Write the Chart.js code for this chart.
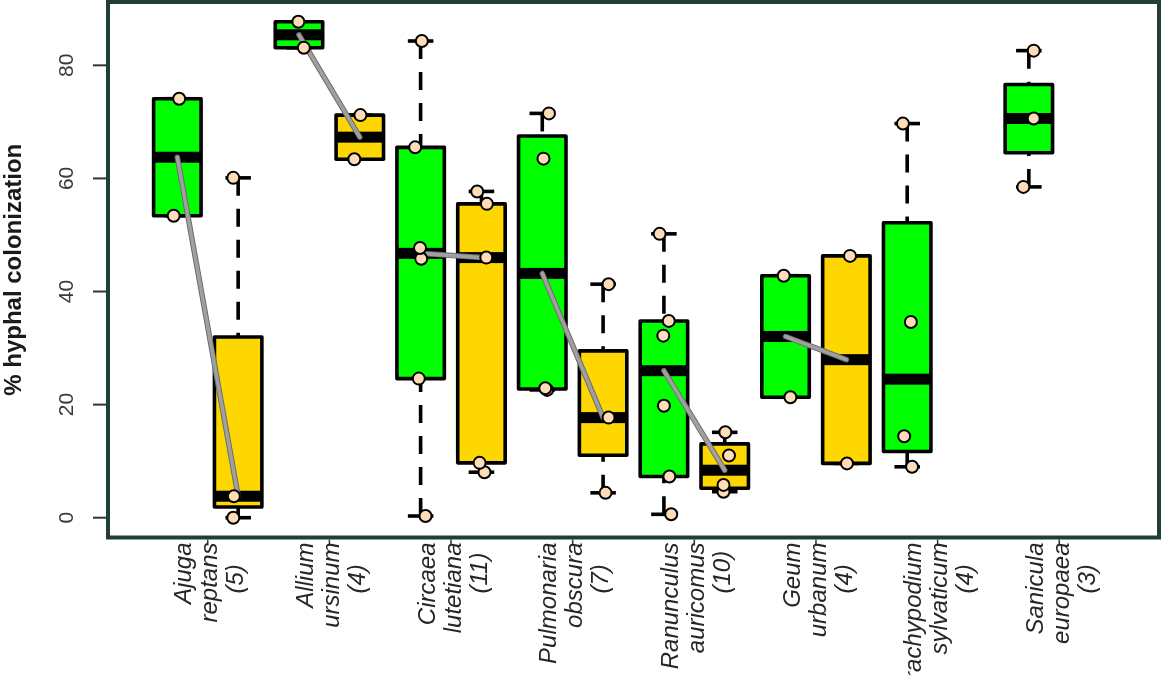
<!DOCTYPE html>
<html>
<head>
<meta charset="utf-8">
<script src="https://cdn.jsdelivr.net/npm/chart.js@4.4.1/dist/chart.umd.min.js"></script>
<style>
  html, body { margin: 0; padding: 0; background: #ffffff; overflow: hidden; }
  canvas { display: block; }
</style>
</head>
<body>
<canvas id="chart" width="1161" height="675"></canvas>
<script>
// Species (genus / epithet) and number of samples per species
const genus = ['Ajuga', 'Allium', 'Circaea', 'Pulmonaria', 'Ranunculus', 'Geum', 'Brachypodium', 'Sanicula'];
const epithet = ['reptans', 'ursinum', 'lutetiana', 'obscura', 'auricomus', 'urbanum', 'sylvaticum', 'europaea'];
const sampleSize = [5, 4, 11, 7, 10, 4, 4, 3];

// % hyphal colonization, green group
const greenValues = [
  [53.4, 74.1],
  [83.1, 87.7],
  [0.3, 24.6, 45.8, 47.7, 65.5, 84.3],
  [22.6, 22.9, 63.5, 71.5],
  [0.6, 7.3, 19.8, 32.2, 34.8, 50.2],
  [21.3, 42.8],
  [9.0, 14.4, 34.6, 69.7],
  [58.5, 70.6, 82.6]
];

// % hyphal colonization, gold group
const goldValues = [
  [0, 3.8, 60.1],
  [63.4, 71.2],
  [8.05, 9.7, 46.0, 55.5, 57.7],
  [4.4, 17.7, 41.3],
  [4.6, 5.8, 11.0, 15.1],
  [9.6, 46.3],
  [],
  []
];

// horizontal jitter of the individual points (x units)
const greenJitter = [
  [-0.06, 0.03], [0.08, -0.01], [0.08, -0.03, 0.01, -0.01, -0.09, 0.02],
  [0.08, 0.05, 0.02, 0.11], [0.12, 0.09, 0.0, -0.01, 0.08, -0.07],
  [0.08, -0.03], [0.08, -0.05, 0.06, -0.07], [-0.09, 0.08, 0.08]
];
const goldJitter = [
  [-0.08, -0.07, -0.08], [-0.09, 0.01], [0.05, -0.03, 0.08, 0.09, -0.07],
  [0.04, 0.09, 0.09], [-0.02, -0.02, 0.07, 0.01], [0.01, 0.06], [], []
];

const yTicks = [0, 20, 40, 60, 80];
const yTitle = '% hyphal colonization';

// Tukey five-number summary
function fivenum(values) {
  const x = values.slice().sort((a, b) => a - b);
  const n = x.length;
  const n4 = Math.floor((n + 3) / 2) / 2;
  const d = [1, n4, (n + 1) / 2, n + 1 - n4, n];
  return d.map(v => 0.5 * (x[Math.floor(v) - 1] + x[Math.ceil(v) - 1]));
}

function boxStats(values) {
  const f = fivenum(values);
  const iqr = f[3] - f[1];
  const lo = values.filter(v => v >= f[1] - 1.5 * iqr);
  const hi = values.filter(v => v <= f[3] + 1.5 * iqr);
  return { lowWhisker: Math.min(...lo), q1: f[1], median: f[2], q3: f[3], highWhisker: Math.max(...hi) };
}

const GREEN = '#00ff00';
const GOLD = '#ffd700';

const groups = [];
genus.forEach((g, k) => {
  groups.push({ pos: 2 * k + 1, values: greenValues[k], jitter: greenJitter[k], fill: GREEN });
  groups.push({ pos: 2 * k + 2, values: goldValues[k], jitter: goldJitter[k], fill: GOLD });
});

const pointData = [];
groups.forEach(gr => {
  gr.values.forEach((v, i) => pointData.push({ x: gr.pos + gr.jitter[i], y: v }));
});

const boxPlugin = {
  id: 'boxes',
  beforeDatasetsDraw(chart) {
    const { ctx, scales: { x, y } } = chart;
    const halfBox = 0.39;
    const halfStaple = 0.21;
    ctx.save();
    groups.forEach(gr => {
      if (!gr.values.length) return;
      const s = boxStats(gr.values);
      const cx = x.getPixelForValue(gr.pos);
      const l = x.getPixelForValue(gr.pos - halfBox);
      const r = x.getPixelForValue(gr.pos + halfBox);
      const sl = x.getPixelForValue(gr.pos - halfStaple);
      const sr = x.getPixelForValue(gr.pos + halfStaple);
      const yq1 = y.getPixelForValue(s.q1);
      const yq3 = y.getPixelForValue(s.q3);
      const ymed = y.getPixelForValue(s.median);
      const ylo = y.getPixelForValue(s.lowWhisker);
      const yhi = y.getPixelForValue(s.highWhisker);

      ctx.strokeStyle = '#000';
      ctx.lineWidth = 3.6;
      ctx.lineCap = 'butt';
      // dashed whiskers, drawn from the extreme toward the hinge
      ctx.setLineDash([18, 13]);
      ctx.beginPath(); ctx.moveTo(cx, yhi); ctx.lineTo(cx, yq3); ctx.stroke();
      ctx.beginPath(); ctx.moveTo(cx, ylo); ctx.lineTo(cx, yq1); ctx.stroke();
      ctx.setLineDash([]);
      // staples
      ctx.beginPath(); ctx.moveTo(sl, yhi); ctx.lineTo(sr, yhi); ctx.stroke();
      ctx.beginPath(); ctx.moveTo(sl, ylo); ctx.lineTo(sr, ylo); ctx.stroke();
      // box
      ctx.fillStyle = gr.fill;
      ctx.fillRect(l, yq3, r - l, yq1 - yq3);
      ctx.fillStyle = '#000';
      ctx.fillRect(l, ymed - 5.5, r - l, 11);
      ctx.lineJoin = 'round';
      ctx.strokeRect(l, yq3, r - l, yq1 - yq3);
    });

    // grey segment joining the two medians of a species
    genus.forEach((g, k) => {
      if (!goldValues[k].length) return;
      const m1 = boxStats(greenValues[k]).median;
      const m2 = boxStats(goldValues[k]).median;
      const x1 = x.getPixelForValue(2 * k + 1), y1 = y.getPixelForValue(m1);
      const x2 = x.getPixelForValue(2 * k + 2), y2 = y.getPixelForValue(m2);
      ctx.lineCap = 'round';
      ctx.strokeStyle = '#6a6a6a';
      ctx.lineWidth = 5.5;
      ctx.beginPath(); ctx.moveTo(x1, y1); ctx.lineTo(x2, y2); ctx.stroke();
      ctx.strokeStyle = '#a0a0a0';
      ctx.lineWidth = 3.6;
      ctx.beginPath(); ctx.moveTo(x1, y1); ctx.lineTo(x2, y2); ctx.stroke();
    });
    ctx.restore();
  },
  afterDraw(chart) {
    const { ctx, chartArea: a, scales: { x, y } } = chart;
    ctx.save();
    // plot frame
    ctx.strokeStyle = '#213f38';
    ctx.lineWidth = 4;
    ctx.strokeRect(a.left, a.top, a.right - a.left, a.bottom - a.top);

    // y axis ticks and labels
    ctx.strokeStyle = '#333';
    ctx.lineWidth = 2;
    ctx.fillStyle = '#3a3a3a';
    ctx.font = '21px "Liberation Sans", Arial, sans-serif';
    yTicks.forEach(t => {
      const py = y.getPixelForValue(t);
      ctx.beginPath(); ctx.moveTo(a.left - 15, py); ctx.lineTo(a.left - 2, py); ctx.stroke();
      ctx.save();
      ctx.translate(67, py);
      ctx.rotate(-Math.PI / 2);
      ctx.textAlign = 'center';
      ctx.textBaseline = 'middle';
      ctx.fillText(String(t), 0, 0);
      ctx.restore();
    });

    // y axis title
    ctx.save();
    ctx.fillStyle = '#1a1a1a';
    ctx.font = 'bold 24px "Liberation Sans", Arial, sans-serif';
    ctx.translate(14, (a.top + a.bottom) / 2);
    ctx.rotate(-Math.PI / 2);
    ctx.textAlign = 'center';
    ctx.textBaseline = 'middle';
    ctx.fillText(yTitle, 0, 0);
    ctx.restore();

    // x axis ticks and species labels
    ctx.fillStyle = '#262626';
    ctx.font = 'italic 24px "Liberation Sans", Arial, sans-serif';
    genus.forEach((g, k) => {
      const px = x.getPixelForValue(2 * k + 1.5);
      ctx.strokeStyle = '#333';
      ctx.lineWidth = 1.5;
      ctx.beginPath(); ctx.moveTo(px, a.bottom + 2); ctx.lineTo(px, a.bottom + 8); ctx.stroke();
      const lines = [g, epithet[k], '(' + sampleSize[k] + ')'];
      lines.forEach((txt, i) => {
        ctx.save();
        const last = i === 2;
        ctx.translate(px - 23 + 26 * i, last ? a.bottom + 56 : a.bottom + 5);
        ctx.rotate(-Math.PI / 2);
        ctx.textAlign = last ? 'left' : 'right';
        ctx.textBaseline = 'middle';
        ctx.fillText(txt, 0, 0);
        ctx.restore();
      });
    });
    ctx.restore();
  }
};

new Chart(document.getElementById('chart').getContext('2d'), {
  type: 'scatter',
  data: {
    datasets: [{
      data: pointData,
      pointRadius: 6,
      pointHoverRadius: 6,
      borderWidth: 2,
      borderColor: '#000000',
      backgroundColor: '#ffdcb8'
    }]
  },
  options: {
    responsive: false,
    animation: false,
    devicePixelRatio: 1,
    layout: { autoPadding: false, padding: { left: 108, right: 2, top: 2, bottom: 137.5 } },
    plugins: { legend: { display: false }, tooltip: { enabled: false } },
    scales: {
      x: { type: 'linear', min: -0.14, max: 17.14, bounds: 'data', display: false },
      y: { type: 'linear', min: -3.5, max: 91.2, bounds: 'data', display: false }
    }
  },
  plugins: [boxPlugin]
});
</script>
</body>
</html>
